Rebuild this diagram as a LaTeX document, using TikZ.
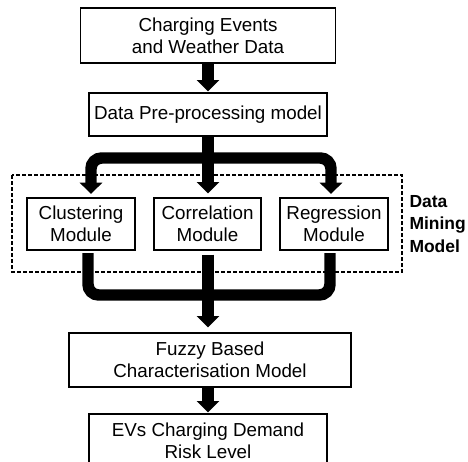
\documentclass[tikz,border=0pt]{standalone}
\usepackage{fontspec}
\setmainfont{Liberation Sans}
\usetikzlibrary{arrows.meta}

\tikzset{every picture/.style={line width=0.75pt}}
\tikzset{
    blockbox/.style={draw, line width=1pt, align=center, inner sep=0.75pt,
        font=\fontsize{14.1}{16.3}\selectfont},
    minelabel/.style={align=left, inner sep=0pt,
        font=\fontsize{13.1}{16.9}\selectfont\bfseries},
    fatline/.style={line width=8.6pt},
    fatarrow/.style={fatline, -{Triangle[width=16.5pt,length=8.5pt]}},
    minebox/.style={line width=1.1pt, dash pattern=on 3pt off 1.5pt}
}

\begin{document}
\begin{tikzpicture}[x=0.75pt,y=0.75pt,yscale=-1,xscale=1]
        \useasboundingbox (0,0) rectangle (468,461);

        % Blocks
        \node[blockbox, minimum width=191.25pt, minimum height=41.25pt] (src) at (208,35.5) {Charging Events\\and Weather Data};
        \node[blockbox, minimum width=178.5pt, minimum height=32.25pt] (prep) at (208,114.5) {Data Pre-processing model};
        \node[blockbox, minimum width=81pt, minimum height=39pt] (clu) at (81,224) {Clustering\\Module};
        \node[blockbox, minimum width=80.25pt, minimum height=39pt] (cor) at (207.5,224) {Correlation\\Module};
        \node[blockbox, minimum width=81pt, minimum height=39pt] (reg) at (334,224) {Regression\\Module};
        \node[blockbox, minimum width=211.5pt, minimum height=40.5pt] (fuzzy) at (210,360) {Fuzzy Based\\Characterisation Model};
        \node[blockbox, minimum width=178.5pt, minimum height=40.5pt] (risk) at (208,441) {EVs Charging Demand\\Risk Level};

        % Data mining frame
        \draw[minebox] (12,175) rectangle (402,272);
        \node[minelabel, anchor=west] (mine) at (409,224) {Data\\Mining\\Model};

        % Branch points
        \coordinate (split) at (208,158);
        \coordinate (merge) at (208,295);
        \coordinate (cluin) at (91,194);
        \coordinate (regin) at (331,194);
        \coordinate (cluout) at (88,253);
        \coordinate (regout) at (330,253);

        % Arrows
        \draw[fatarrow, shorten >=0.75pt] (src) -- (prep);
        \draw[fatarrow, shorten >=3pt] (prep.south) -- (prep.south |- cor.north);
        \draw[fatarrow, rounded corners=8pt] (split) -| (cluin);
        \draw[fatarrow, rounded corners=8pt] (split) -| (regin);
        \draw[fatline, rounded corners=8pt] (cluout) |- (merge);
        \draw[fatline, rounded corners=8pt] (regout) |- (merge);
        \draw[fatarrow, shorten <=3pt, shorten >=3.75pt] (prep.south |- cor.south) -- (prep.south |- fuzzy.north);
        \draw[fatarrow, shorten >=0.75pt] (prep.south |- fuzzy.south) -- (risk.north);

    \end{tikzpicture}
\end{document}
